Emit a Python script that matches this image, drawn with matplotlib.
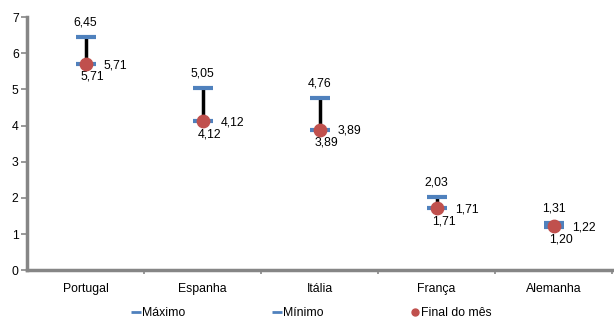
import matplotlib.pyplot as plt
from matplotlib.lines import Line2D

plt.rcParams['font.family'] = ['Liberation Sans', 'DejaVu Sans']

# Data
paises = ['Portugal', 'Espanha', 'Itália', 'França', 'Alemanha']
maximo = [6.45, 5.05, 4.76, 2.03, 1.31]
minimo = [5.71, 4.12, 3.89, 1.71, 1.20]
final_mes = [5.71, 4.12, 3.89, 1.71, 1.22]

blue = '#4F81BD'
red = '#C0504D'
grey = '#868686'

fig = plt.figure(figsize=(6.14, 3.22), dpi=100)
ax = fig.add_axes([0.044, 0.161, 0.953, 0.786])

x = list(range(len(paises)))

# vertical high-low lines
ax.vlines(x, minimo, maximo, color='black', linewidth=2.5, zorder=2)
# max / min dashes
ax.scatter(x, maximo, marker='_', s=200, linewidths=3, color=blue, zorder=3)
ax.scatter(x, minimo, marker='_', s=200, linewidths=3, color=blue, zorder=3)
# end of month
ax.scatter(x, final_mes, marker='o', s=80, color=red, zorder=4)

fmt = lambda v: f'{v:.2f}'.replace('.', ',')
for i in x:
    ax.annotate(fmt(maximo[i]), (i, maximo[i]), xytext=(0, 6), textcoords='offset points',
                ha='center', va='bottom', fontsize=8.8)
    ax.annotate(fmt(minimo[i]), (i, minimo[i]), xytext=(5, -5), textcoords='offset points',
                ha='center', va='top', fontsize=8.8)
    ax.annotate(fmt(final_mes[i]), (i, final_mes[i]), xytext=(13, -1), textcoords='offset points',
                ha='left', va='center', fontsize=8.8)

ax.set_xlim(-0.5, len(paises) - 0.5)
ax.set_ylim(0, 7)
ax.set_yticks(range(0, 8))
ax.set_xticks(x)
ax.set_xticklabels(paises, fontsize=8.8)
ax.set_xticks([i + 0.5 for i in x], minor=True)
ax.tick_params(axis='x', which='major', length=0, pad=9)
ax.tick_params(axis='x', which='minor', length=3, width=1.2, color=grey, direction='out')
ax.tick_params(axis='y', length=4, width=1.2, color=grey, labelsize=8.8, pad=2)

for s in ['top', 'right']:
    ax.spines[s].set_visible(False)
for s in ['left', 'bottom']:
    ax.spines[s].set_color(grey)
    ax.spines[s].set_linewidth(2.5)

handles = [
    Line2D([], [], color=blue, marker='_', linestyle='None', markersize=7, markeredgewidth=2),
    Line2D([], [], color=blue, marker='_', linestyle='None', markersize=7, markeredgewidth=2),
    Line2D([], [], color=red, marker='o', linestyle='None', markersize=5),
]
fig.legend(handles, ['Máximo', 'Mínimo', 'Final do mês'], loc='lower center',
           bbox_to_anchor=(0.508, -0.025), ncol=3, frameon=False, fontsize=8.8,
           handlelength=0.6, handletextpad=0.2, columnspacing=7.2)

fig.savefig('out.png', dpi=100)
